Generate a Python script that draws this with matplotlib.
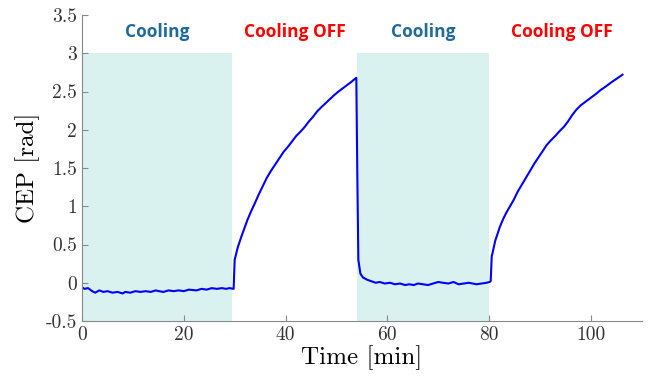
import matplotlib
matplotlib.use("Agg")
import matplotlib.pyplot as plt

# datos: tiempo [min] y CEP [rad]
t1 = [0, 0.5, 1.2, 2.0, 2.6, 3.4, 4.2, 5.0, 6.0, 7.0, 8.0, 8.5, 9.5, 10.5, 11.5, 12.5,
      13.5, 14.5, 15.1, 16.0, 17.0, 18.0, 19.0, 20.0, 21.0, 21.7, 22.5, 23.5, 24.5,
      25.5, 26.5, 27.5, 28.3, 29.0, 29.7]
cep1 = [-0.06, -0.08, -0.07, -0.11, -0.13, -0.10, -0.12, -0.11, -0.13, -0.12, -0.14,
        -0.12, -0.13, -0.11, -0.12, -0.11, -0.12, -0.10, -0.11, -0.12, -0.10, -0.11,
        -0.10, -0.11, -0.09, -0.095, -0.10, -0.08, -0.09, -0.07, -0.08, -0.07, -0.08,
        -0.07, -0.08]

t2 = [29.8, 30.0, 30.6, 31.3, 32.0, 32.5, 33.2, 33.9, 34.7, 35.5, 36.3, 37.2, 38.0,
      38.8, 39.6, 40.5, 41.3, 42.1, 43.0, 43.8, 44.6, 45.4, 46.2, 47.1, 47.9, 48.7,
      49.5, 50.4, 51.2, 52.0, 52.8, 53.7, 53.9, 54.1, 54.3, 54.7, 55.2, 56.0, 57.7]
cep2 = [-0.08, 0.30, 0.46, 0.60, 0.73, 0.82, 0.93, 1.03, 1.15, 1.26, 1.37, 1.47, 1.55,
        1.63, 1.71, 1.78, 1.85, 1.92, 1.98, 2.04, 2.11, 2.17, 2.24, 2.30, 2.35, 2.40,
        2.45, 2.50, 2.54, 2.58, 2.62, 2.67, 2.68, 1.40, 0.30, 0.12, 0.07, 0.04, 0.0]

t3 = [58.5, 59.5, 60.5, 61.5, 62.5, 63.5, 64.3, 65.2, 66.0, 67.0, 68.0, 69.0, 70.0,
      70.9, 72.0, 73.0, 74.0, 75.0, 76.0, 77.5, 78.5, 79.5, 80.1]
cep3 = [0.01, -0.01, 0.0, -0.02, -0.01, -0.03, -0.02, -0.03, -0.01, -0.02, -0.03,
        -0.01, 0.01, 0.0, -0.01, 0.01, -0.02, -0.01, 0.0, -0.02, -0.01, 0.0, 0.01]

t4 = [80.3, 80.5, 81.2, 82.1, 82.8, 83.4, 84.1, 84.8, 85.6, 86.5, 87.3, 88.1, 88.9,
      89.7, 90.5, 91.3, 92.1, 93.0, 93.8, 94.7, 95.5, 96.3, 97.1, 98.0, 99.0, 100.0,
      101.0, 101.9, 103.0, 104.0, 105.1, 106.2]
cep4 = [0.02, 0.34, 0.55, 0.73, 0.84, 0.92, 1.00, 1.08, 1.19, 1.29, 1.38, 1.47, 1.56,
        1.64, 1.72, 1.80, 1.86, 1.92, 1.98, 2.04, 2.11, 2.19, 2.26, 2.32, 2.37, 2.42,
        2.47, 2.52, 2.57, 2.62, 2.67, 2.72]

zonas_frio = [(0, 29.5), (54.0, 80.0)]
etiquetas = ["Cooling", "Cooling OFF", "Cooling", "Cooling OFF"]
pos_etiquetas = [14.8, 41.8, 67.0, 94.3]
colores_etiquetas = ["#1f6a9a", "#ff0000", "#1f6a9a", "#ff0000"]

tiempo = t1 + t2 + t3 + t4
cep = cep1 + cep2 + cep3 + cep4

fig = plt.figure(figsize=(6.48, 3.81), dpi=100)
ax = fig.add_axes([0.1265, 0.1575, 0.864, 0.803])

for a, b in zonas_frio:
    ax.fill_between([a, b], -0.5, 3, color="#d9f2f0", linewidth=0)

ax.plot(tiempo, cep, color="#0000ff", linewidth=1.5)

for txt, x, c in zip(etiquetas, pos_etiquetas, colores_etiquetas):
    ax.text(x, 3.28, txt, color=c, fontsize=12.5, fontweight="bold",
            family="Open Sans", ha="center", va="center")

ax.set_xlim(0, 110)
ax.set_ylim(-0.5, 3.5)
ax.set_xticks([0, 20, 40, 60, 80, 100])
ax.set_xticklabels(["0", "20", "40", "60", "80", "100"])
ax.set_yticks([-0.5, 0, 0.5, 1, 1.5, 2, 2.5, 3, 3.5])
ax.set_yticklabels(["-0.5", "0", "0.5", "1", "1.5", "2", "2.5", "3", "3.5"])

for s in ["top", "right"]:
    ax.spines[s].set_visible(False)
for s in ["left", "bottom"]:
    ax.spines[s].set_color("#888888")
ax.tick_params(direction="in", color="#888888", labelcolor="#333333", length=4)
for lab in ax.get_xticklabels() + ax.get_yticklabels():
    lab.set_family("cmr10")
    lab.set_fontsize(14)

ax.set_xlabel("Time [min]", family="cmr10", fontsize=18, labelpad=1)
ax.set_ylabel("CEP [rad]", family="cmr10", fontsize=18, labelpad=4)

fig.savefig("out.png", dpi=100)
